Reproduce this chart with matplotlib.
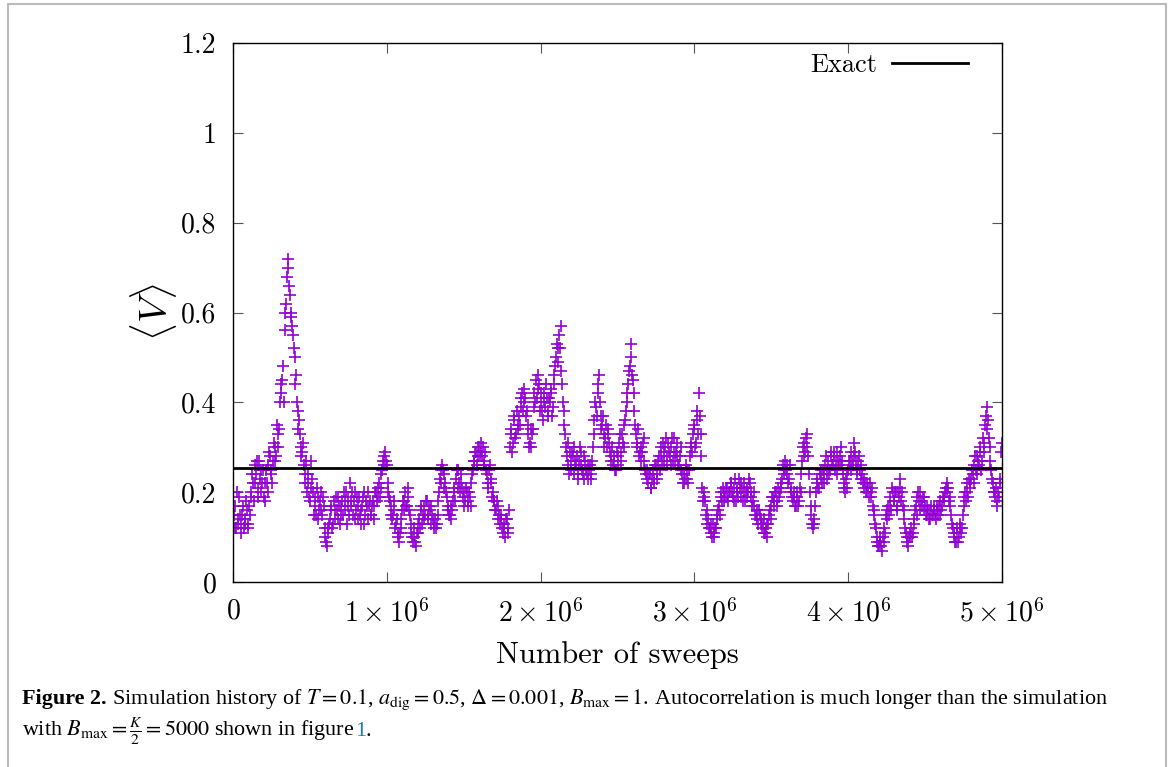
import matplotlib
matplotlib.use("Agg")
import matplotlib.pyplot as plt
from matplotlib.patches import Rectangle
import numpy as np

# -------------------------------
# Data: <V>, two interleaved sample sets
# (every 10^4 sweeps, second set shifted by 5000 sweeps)
# -------------------------------
SWEEP_STEP = 10000
SWEEP_SHIFT = 5000
EXACT_V = 0.253

V_0M = [0.13, 0.17, 0.12, 0.14, 0.19, 0.13, 0.15, 0.12, 0.14, 0.16,
        0.13, 0.15, 0.19, 0.22, 0.26, 0.24, 0.21, 0.27, 0.25, 0.22,
        0.19, 0.18, 0.22, 0.26, 0.28, 0.24, 0.27, 0.30, 0.28, 0.33,
        0.34, 0.42, 0.45, 0.40, 0.56, 0.68, 0.72, 0.64, 0.59, 0.55,
        0.50, 0.46, 0.38, 0.36, 0.30, 0.29, 0.26, 0.24, 0.20, 0.22,
        0.18, 0.27, 0.20, 0.17, 0.15, 0.19, 0.16, 0.20, 0.15, 0.17,
        0.10, 0.08, 0.11, 0.14, 0.17, 0.13, 0.16, 0.19, 0.14, 0.17,
        0.15, 0.18, 0.20, 0.16, 0.13, 0.19, 0.22, 0.17, 0.15, 0.20,
        0.16, 0.14, 0.19, 0.13, 0.17, 0.20, 0.15, 0.17, 0.14, 0.18,
        0.15, 0.18, 0.17, 0.20, 0.19, 0.22, 0.21, 0.25, 0.28, 0.29]
V_1M = [0.26, 0.22, 0.18, 0.17, 0.15, 0.16, 0.13, 0.11, 0.09, 0.12,
        0.16, 0.18, 0.20, 0.17, 0.19, 0.15, 0.11, 0.09, 0.10, 0.08,
        0.11, 0.14, 0.16, 0.13, 0.17, 0.15, 0.18, 0.14, 0.16, 0.17,
        0.14, 0.13, 0.12, 0.15, 0.20, 0.25, 0.26, 0.24, 0.22, 0.19,
        0.17, 0.15, 0.14, 0.18, 0.20, 0.23, 0.25, 0.22, 0.24, 0.21,
        0.20, 0.18, 0.20, 0.17, 0.19, 0.22, 0.25, 0.27, 0.29, 0.28,
        0.30, 0.31, 0.28, 0.27, 0.29, 0.24, 0.21, 0.26, 0.23, 0.20,
        0.18, 0.16, 0.17, 0.15, 0.14, 0.12, 0.13, 0.10, 0.14, 0.12,
        0.30, 0.34, 0.31, 0.36, 0.33, 0.35, 0.37, 0.39, 0.42, 0.40,
        0.41, 0.38, 0.33, 0.31, 0.30, 0.34, 0.42, 0.45, 0.43, 0.44]
V_2M = [0.40, 0.38, 0.42, 0.39, 0.41, 0.37, 0.40, 0.42, 0.39, 0.44,
        0.50, 0.52, 0.55, 0.57, 0.44, 0.38, 0.33, 0.28, 0.26, 0.29,
        0.25, 0.28, 0.30, 0.26, 0.24, 0.27, 0.29, 0.25, 0.23, 0.27,
        0.24, 0.23, 0.26, 0.24, 0.30, 0.36, 0.39, 0.42, 0.46, 0.37,
        0.35, 0.33, 0.32, 0.30, 0.34, 0.29, 0.28, 0.26, 0.27, 0.25,
        0.28, 0.31, 0.29, 0.33, 0.30, 0.36, 0.40, 0.44, 0.48, 0.53,
        0.45, 0.38, 0.33, 0.31, 0.28, 0.30, 0.29, 0.32, 0.25, 0.23,
        0.22, 0.24, 0.21, 0.25, 0.23, 0.26, 0.24, 0.28, 0.30, 0.27,
        0.29, 0.30, 0.26, 0.31, 0.28, 0.30, 0.27, 0.32, 0.29, 0.28,
        0.26, 0.30, 0.24, 0.22, 0.23, 0.25, 0.22, 0.28, 0.30, 0.33]
V_3M = [0.34, 0.31, 0.36, 0.42, 0.33, 0.21, 0.19, 0.18, 0.16, 0.14,
        0.12, 0.11, 0.13, 0.10, 0.12, 0.14, 0.17, 0.19, 0.18, 0.20,
        0.19, 0.21, 0.18, 0.20, 0.22, 0.19, 0.21, 0.18, 0.20, 0.23,
        0.19, 0.21, 0.20, 0.18, 0.21, 0.20, 0.22, 0.19, 0.18, 0.17,
        0.15, 0.14, 0.16, 0.13, 0.12, 0.14, 0.11, 0.10, 0.13, 0.16,
        0.17, 0.19, 0.18, 0.20, 0.17, 0.19, 0.21, 0.23, 0.25, 0.27,
        0.24, 0.22, 0.26, 0.20, 0.18, 0.19, 0.17, 0.19, 0.18, 0.20,
        0.27, 0.31, 0.29, 0.33, 0.28, 0.20, 0.15, 0.12, 0.14, 0.20,
        0.23, 0.21, 0.25, 0.22, 0.24, 0.26, 0.23, 0.27, 0.25, 0.28,
        0.26, 0.29, 0.27, 0.24, 0.26, 0.30, 0.27, 0.22, 0.20, 0.21]
V_4M = [0.25, 0.27, 0.29, 0.26, 0.31, 0.27, 0.25, 0.28, 0.26, 0.24,
        0.21, 0.22, 0.20, 0.21, 0.22, 0.19, 0.17, 0.15, 0.12, 0.09,
        0.08, 0.10, 0.07, 0.09, 0.11, 0.14, 0.17, 0.19, 0.16, 0.20,
        0.18, 0.20, 0.17, 0.19, 0.23, 0.20, 0.16, 0.12, 0.10, 0.08,
        0.10, 0.12, 0.11, 0.14, 0.17, 0.19, 0.18, 0.20, 0.17, 0.19,
        0.17, 0.15, 0.16, 0.14, 0.17, 0.15, 0.16, 0.14, 0.16, 0.17,
        0.15, 0.17, 0.19, 0.20, 0.22, 0.21, 0.19, 0.15, 0.12, 0.10,
        0.09, 0.11, 0.10, 0.13, 0.12, 0.17, 0.20, 0.22, 0.19, 0.21,
        0.23, 0.24, 0.26, 0.25, 0.28, 0.26, 0.29, 0.27, 0.31, 0.35,
        0.39, 0.36, 0.30, 0.25, 0.22, 0.20, 0.21, 0.17, 0.19, 0.23,
        0.31]

# shifted set (sweeps 5000, 15000, ...)
W_0M = [0.15, 0.12, 0.20, 0.13, 0.15, 0.11, 0.17, 0.13, 0.18, 0.12,
        0.17, 0.20, 0.24, 0.18, 0.22, 0.27, 0.19, 0.23, 0.20, 0.25,
        0.22, 0.25, 0.20, 0.29, 0.25, 0.22, 0.31, 0.27, 0.35, 0.30,
        0.40, 0.44, 0.48, 0.60, 0.62, 0.70, 0.66, 0.60, 0.57, 0.52,
        0.44, 0.40, 0.34, 0.33, 0.28, 0.31, 0.22, 0.27, 0.24, 0.19,
        0.21, 0.23, 0.15, 0.19, 0.21, 0.14, 0.18, 0.16, 0.19, 0.12,
        0.09, 0.12, 0.13, 0.16, 0.12, 0.18, 0.14, 0.16, 0.19, 0.13,
        0.17, 0.15, 0.18, 0.20, 0.17, 0.15, 0.18, 0.20, 0.18, 0.14,
        0.19, 0.17, 0.15, 0.16, 0.19, 0.13, 0.18, 0.20, 0.17, 0.15,
        0.17, 0.14, 0.20, 0.18, 0.21, 0.19, 0.24, 0.27, 0.26, 0.27]
W_1M = [0.20, 0.19, 0.15, 0.14, 0.18, 0.12, 0.14, 0.10, 0.11, 0.14,
        0.18, 0.16, 0.17, 0.21, 0.16, 0.13, 0.10, 0.12, 0.09, 0.11,
        0.13, 0.12, 0.17, 0.15, 0.14, 0.18, 0.15, 0.17, 0.13, 0.15,
        0.12, 0.14, 0.13, 0.18, 0.23, 0.22, 0.25, 0.21, 0.20, 0.16,
        0.15, 0.17, 0.16, 0.21, 0.18, 0.25, 0.21, 0.20, 0.22, 0.19,
        0.17, 0.21, 0.18, 0.20, 0.17, 0.24, 0.27, 0.29, 0.26, 0.30,
        0.28, 0.29, 0.30, 0.26, 0.25, 0.22, 0.25, 0.22, 0.19, 0.18,
        0.16, 0.18, 0.14, 0.13, 0.15, 0.11, 0.12, 0.14, 0.11, 0.16,
        0.33, 0.29, 0.37, 0.32, 0.38, 0.34, 0.35, 0.41, 0.38, 0.43,
        0.37, 0.35, 0.30, 0.34, 0.33, 0.39, 0.40, 0.41, 0.46, 0.38]
W_2M = [0.42, 0.36, 0.40, 0.44, 0.38, 0.41, 0.43, 0.37, 0.46, 0.48,
        0.53, 0.49, 0.52, 0.47, 0.40, 0.35, 0.30, 0.31, 0.24, 0.27,
        0.29, 0.24, 0.27, 0.28, 0.23, 0.30, 0.26, 0.24, 0.28, 0.25,
        0.26, 0.25, 0.23, 0.27, 0.33, 0.40, 0.37, 0.44, 0.40, 0.34,
        0.37, 0.30, 0.35, 0.33, 0.31, 0.27, 0.30, 0.28, 0.25, 0.29,
        0.26, 0.33, 0.27, 0.31, 0.35, 0.38, 0.42, 0.47, 0.50, 0.46,
        0.42, 0.35, 0.30, 0.34, 0.29, 0.27, 0.31, 0.27, 0.24, 0.25,
        0.24, 0.21, 0.23, 0.22, 0.26, 0.23, 0.27, 0.25, 0.28, 0.31,
        0.27, 0.32, 0.28, 0.29, 0.26, 0.32, 0.29, 0.27, 0.31, 0.26,
        0.28, 0.25, 0.22, 0.24, 0.26, 0.23, 0.25, 0.31, 0.29, 0.35]
W_3M = [0.30, 0.38, 0.33, 0.37, 0.28, 0.18, 0.20, 0.15, 0.13, 0.12,
        0.13, 0.10, 0.11, 0.12, 0.15, 0.16, 0.15, 0.20, 0.21, 0.18,
        0.21, 0.19, 0.20, 0.22, 0.20, 0.18, 0.23, 0.21, 0.19, 0.21,
        0.22, 0.18, 0.22, 0.20, 0.19, 0.23, 0.20, 0.17, 0.20, 0.15,
        0.16, 0.13, 0.15, 0.14, 0.13, 0.11, 0.12, 0.13, 0.15, 0.14,
        0.19, 0.17, 0.20, 0.18, 0.21, 0.20, 0.22, 0.26, 0.24, 0.25,
        0.26, 0.23, 0.21, 0.19, 0.20, 0.17, 0.20, 0.17, 0.21, 0.24,
        0.30, 0.28, 0.32, 0.30, 0.24, 0.17, 0.13, 0.13, 0.17, 0.22,
        0.21, 0.24, 0.23, 0.25, 0.22, 0.28, 0.25, 0.24, 0.29, 0.26,
        0.28, 0.25, 0.29, 0.27, 0.28, 0.26, 0.24, 0.21, 0.23, 0.24]
W_4M = [0.27, 0.25, 0.27, 0.28, 0.29, 0.24, 0.27, 0.25, 0.23, 0.22,
        0.23, 0.20, 0.22, 0.19, 0.20, 0.21, 0.16, 0.13, 0.10, 0.08,
        0.09, 0.08, 0.10, 0.12, 0.15, 0.16, 0.15, 0.17, 0.21, 0.18,
        0.20, 0.16, 0.20, 0.21, 0.18, 0.17, 0.14, 0.11, 0.09, 0.10,
        0.11, 0.10, 0.13, 0.16, 0.15, 0.20, 0.16, 0.18, 0.19, 0.16,
        0.15, 0.17, 0.14, 0.16, 0.15, 0.17, 0.15, 0.17, 0.15, 0.18,
        0.16, 0.19, 0.18, 0.21, 0.20, 0.18, 0.17, 0.13, 0.11, 0.09,
        0.12, 0.09, 0.12, 0.11, 0.15, 0.19, 0.18, 0.20, 0.23, 0.22,
        0.25, 0.22, 0.28, 0.24, 0.27, 0.30, 0.25, 0.32, 0.29, 0.37,
        0.34, 0.32, 0.27, 0.23, 0.20, 0.19, 0.18, 0.20, 0.22, 0.29]

X_TICKS = [0, 1e6, 2e6, 3e6, 4e6, 5e6]
X_TICK_LABELS = [r"$0$", r"$1\times10^6$", r"$2\times10^6$",
                 r"$3\times10^6$", r"$4\times10^6$", r"$5\times10^6$"]
Y_TICKS = [0, 0.2, 0.4, 0.6, 0.8, 1.0, 1.2]
Y_TICK_LABELS = ["0", "0.2", "0.4", "0.6", "0.8", "1", "1.2"]

V_ALL = V_0M + V_1M + V_2M + V_3M + V_4M
W_ALL = W_0M + W_1M + W_2M + W_3M + W_4M
sweeps = np.concatenate([np.arange(len(V_ALL)) * SWEEP_STEP,
                         np.arange(len(W_ALL)) * SWEEP_STEP + SWEEP_SHIFT])
values = V_ALL + W_ALL

# -------------------------------
# Figure
# -------------------------------
plt.rcParams['mathtext.fontset'] = 'cm'
plt.rcParams['font.family'] = 'cmr10'
plt.rcParams['axes.formatter.use_mathtext'] = True

W, H = 1170, 767
fig = plt.figure(figsize=(W / 100, H / 100), dpi=100)
ax = fig.add_axes([233 / W, 1 - 582 / H, (1002 - 233) / W, (582 - 43) / H])

ax.plot(sweeps, values, linestyle='none', marker='+', color='#9400d3',
        markersize=9, markeredgewidth=1.2, zorder=2)
ax.axhline(EXACT_V, color='black', lw=2.0, label='Exact', zorder=3)

ax.set_xlim(0, 5e6)
ax.set_ylim(0, 1.2)
ax.set_xticks(X_TICKS)
ax.set_xticklabels(X_TICK_LABELS)
ax.set_yticks(Y_TICKS)
ax.set_yticklabels(Y_TICK_LABELS)
ax.tick_params(direction='in', length=7, width=0.8, color='#555555',
               top=True, right=True, labelsize=20, pad=12)
for sp in ax.spines.values():
    sp.set_linewidth(1.0)

ax.set_xlabel("Number of sweeps", fontsize=22, labelpad=10)
ax.set_ylabel(r"$\langle V\rangle$", fontsize=28, labelpad=1)

leg = ax.legend(loc='upper right', frameon=False, markerfirst=False,
                fontsize=19, handlelength=2.9, handletextpad=0.55,
                bbox_to_anchor=(0.98, 1.015), borderaxespad=0.3)

# outer frame of the page figure
fig.patches.append(Rectangle((8 / W, -0.1), (1166 - 8) / W, 1.1 - 4 / H,
                             transform=fig.transFigure, fill=False,
                             edgecolor='#bbbbbb', lw=1.5))

# caption
cap_kw = dict(fontsize=15.9, family='Liberation Serif', math_fontfamily='stix',
              va='baseline', ha='left')


def put_after(prev, y, s, **kw):
    fig.canvas.draw()
    x1 = prev.get_window_extent().x1
    return fig.text(x1 / W, y, s, **{**cap_kw, **kw})


y1 = 1 - 704 / H
y2 = 1 - 736 / H
t = fig.text(22 / W, y1, "Figure 2.", **{**cap_kw, 'fontweight': 'bold'})
put_after(t, y1, r" Simulation history of $T=0.1$, $a_{\rm dig}=0.5$, "
          r"$\Delta=0.001$, $B_{\rm max}=1$. Autocorrelation is much longer than the simulation")
t = fig.text(22 / W, y2, r"with $B_{\rm max}=\frac{K}{2}=5000$ shown in figure ", **cap_kw)
t = put_after(t, y2, "1", color='#2878b5')
put_after(t, y2, ".")

fig.savefig("out.png", dpi=100)
